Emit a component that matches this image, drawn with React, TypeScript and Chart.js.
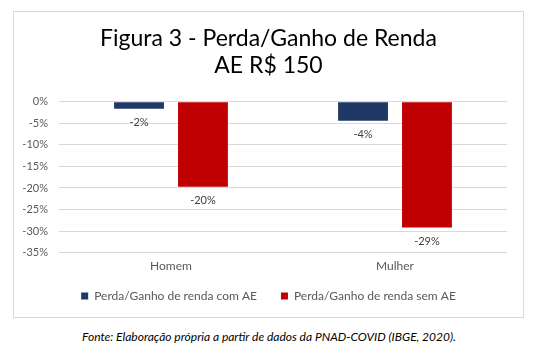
import React, { useEffect, useRef } from "react";
import { Chart, registerables } from "chart.js";

Chart.register(...registerables);

const categories = ["Homem", "Mulher"];
const seriesNames = ["Perda/Ganho de renda com AE", "Perda/Ganho de renda sem AE"];
const comAE = [-1.6, -4.4];
const semAE = [-19.7, -29.2];
const seriesColors = ["#1F3864", "#C00000"];
const yMin = -35;
const yMax = 0;
const yStep = 5;
const titleLines = ["Figura 3 - Perda/Ganho de Renda", "AE R$ 150"];
const sourceNote = "Fonte: Elaboração própria a partir de dados da PNAD-COVID (IBGE, 2020).";

const FONT = "Lato, 'Open Sans', sans-serif";

const valueLabels = {
  id: "valueLabels",
  afterDatasetsDraw(chart: any) {
    const ctx = chart.ctx;
    ctx.save();
    ctx.font = `11px ${FONT}`;
    ctx.fillStyle = "#404040";
    ctx.textAlign = "center";
    ctx.textBaseline = "middle";
    chart.data.datasets.forEach((ds: any, i: number) => {
      const meta = chart.getDatasetMeta(i);
      meta.data.forEach((el: any, j: number) => {
        const v = ds.data[j];
        ctx.fillText(`${Math.round(v)}%`, el.x, el.y + 14);
      });
    });
    ctx.restore();
  },
};

// move the legend row up a little, keeping Chart.js' own legend layout otherwise
const legendNudge = {
  id: "legendNudge",
  afterLayout(chart: any) {
    const lg = chart.legend;
    if (lg) {
      lg.top -= 13;
      lg.bottom -= 13;
    }
  },
};

export default function App() {
  const ref = useRef<HTMLCanvasElement>(null);
  useEffect(() => {
    if (!ref.current) return;
    const chart = new Chart(ref.current, {
      type: "bar",
      data: {
        labels: categories,
        datasets: [
          { label: seriesNames[0], data: comAE, backgroundColor: seriesColors[0], categoryPercentage: 0.571, barPercentage: 0.78 },
          { label: seriesNames[1], data: semAE, backgroundColor: seriesColors[1], categoryPercentage: 0.571, barPercentage: 0.78 },
        ],
      },
      options: {
        animation: false,
        responsive: false,
        layout: { padding: { left: 0, right: 0, top: 0, bottom: -8 } },
        plugins: {
          title: {
            display: true,
            text: titleLines,
            color: "#000000",
            font: { family: FONT, size: 23, weight: "normal", lineHeight: 1.17 },
            padding: { top: 13, bottom: 23 },
          },
          legend: {
            position: "bottom",
            labels: {
              color: "#595959",
              font: { family: FONT, size: 12 },
              boxWidth: 7,
              boxHeight: 7,
              padding: 24,
            },
          },
          tooltip: { enabled: false },
        },
        scales: {
          x: {
            grid: { display: false, drawTicks: false },
            border: { display: false },
            ticks: { color: "#595959", font: { family: FONT, size: 12 }, padding: 6 },
          },
          y: {
            min: yMin,
            max: yMax,
            grid: { color: "#D9D9D9", drawTicks: false },
            border: { display: false },
            afterFit: (s: any) => { s.width = 45; },
            ticks: {
              stepSize: yStep,
              color: "#595959",
              font: { family: FONT, size: 11 },
              padding: 11,
              callback: (v: any) => `${v}%`,
            },
          },
          yRight: {
            position: "right",
            grid: { display: false, drawTicks: false },
            border: { display: false },
            ticks: { display: false },
            afterFit: (s: any) => { s.width = 16; },
          },
        },
      },
      plugins: [valueLabels, legendNudge],
    });
    return () => chart.destroy();
  }, []);

  return (
    <div style={{ position: "fixed", left: 0, top: 0, width: 538, height: 360, background: "#fff" }}>
      <div style={{ position: "absolute", left: 13, top: 11, width: 509, height: 305, border: "1px solid #D9D9D9" }}>
        <canvas ref={ref} width={509} height={305} style={{ display: "block" }} />
      </div>
      <div style={{ position: "absolute", left: 0, top: 329, width: 538, textAlign: "center", fontFamily: FONT, fontStyle: "italic", fontSize: 12, color: "#000" }}>
        {sourceNote}
      </div>
    </div>
  );
}
